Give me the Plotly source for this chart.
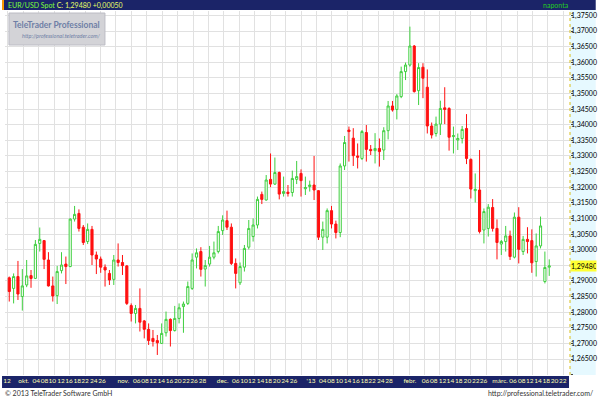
import plotly.graph_objects as go

# ---------------- data (EUR/USD daily candles) ----------------
open_ = [1.2910, 1.2876, 1.2914, 1.2850, 1.2887, 1.2917, 1.2908, 1.3020, 1.3029, 1.2967,
         1.2884, 1.2853, 1.2933, 1.2954, 1.2946, 1.3098, 1.3116, 1.3072, 1.3026, 1.3065,
         1.2983, 1.2970, 1.2944, 1.2924, 1.2905, 1.2967, 1.2959, 1.2948, 1.2821, 1.2796,
         1.2812, 1.2772, 1.2745, 1.2716, 1.2709, 1.2700, 1.2734, 1.2777, 1.2741, 1.2780,
         1.2818, 1.2828, 1.2876, 1.2976, 1.2994, 1.2938, 1.2954, 1.2976, 1.2994, 1.3061,
         1.3093, 1.3072, 1.2956, 1.2894, 1.2944, 1.3008, 1.3042, 1.3079, 1.3177, 1.3159,
         1.3225, 1.3210, 1.3247, 1.3180, 1.3184, 1.3183, 1.3225, 1.3244, 1.3195, 1.3202,
         1.3207, 1.3189, 1.3040, 1.3040, 1.3125, 1.3082, 1.3055, 1.3268, 1.3383, 1.3357,
         1.3300, 1.3292, 1.3375, 1.3321, 1.3317, 1.3324, 1.3319, 1.3381, 1.3460, 1.3449,
         1.3490, 1.3570, 1.3591, 1.3652, 1.3509, 1.3584, 1.3520, 1.3396, 1.3372, 1.3402,
         1.3454, 1.3452, 1.3362, 1.3351, 1.3356, 1.3388, 1.3289, 1.3189, 1.3191, 1.3063,
         1.3068, 1.3135, 1.3068, 1.3018, 1.3026, 1.3044, 1.2976, 1.3104, 1.2994, 1.3033,
         1.3029, 1.2962, 1.3012, 1.2898, 1.2944]
high = [1.2914, 1.2924, 1.2964, 1.2938, 1.2967, 1.2935, 1.3031, 1.3071, 1.3031, 1.2992,
        1.2914, 1.2948, 1.2992, 1.2978, 1.3100, 1.3140, 1.3129, 1.3079, 1.3084, 1.3076,
        1.2994, 1.2978, 1.2953, 1.2935, 1.2983, 1.3020, 1.2983, 1.2951, 1.2828, 1.2823,
        1.2876, 1.2775, 1.2764, 1.2743, 1.2727, 1.2764, 1.2802, 1.2780, 1.2820, 1.2828,
        1.2834, 1.2898, 1.2988, 1.3004, 1.3008, 1.2967, 1.3012, 1.3026, 1.3076, 1.3110,
        1.3125, 1.3084, 1.2972, 1.2959, 1.3015, 1.3095, 1.3100, 1.3170, 1.3186, 1.3239,
        1.3308, 1.3295, 1.3250, 1.3234, 1.3207, 1.3253, 1.3284, 1.3257, 1.3234, 1.3221,
        1.3300, 1.3191, 1.3090, 1.3132, 1.3140, 1.3093, 1.3276, 1.3364, 1.3394, 1.3389,
        1.3340, 1.3383, 1.3399, 1.3335, 1.3373, 1.3356, 1.3392, 1.3476, 1.3476, 1.3498,
        1.3586, 1.3599, 1.3714, 1.3655, 1.3597, 1.3597, 1.3577, 1.3407, 1.3426, 1.3477,
        1.3520, 1.3456, 1.3394, 1.3372, 1.3396, 1.3434, 1.3292, 1.3244, 1.3319, 1.3132,
        1.3146, 1.3162, 1.3097, 1.3031, 1.3076, 1.3061, 1.3119, 1.3136, 1.3044, 1.3072,
        1.3065, 1.3052, 1.3106, 1.2994, 1.2969]
low = [1.2834, 1.2828, 1.2839, 1.2805, 1.2880, 1.2878, 1.2906, 1.2994, 1.2938, 1.2882,
       1.2834, 1.2826, 1.2924, 1.2890, 1.2944, 1.3090, 1.3058, 1.3015, 1.3018, 1.2951,
       1.2922, 1.2926, 1.2882, 1.2887, 1.2887, 1.2946, 1.2919, 1.2823, 1.2770, 1.2764,
       1.2738, 1.2716, 1.2695, 1.2690, 1.2663, 1.2698, 1.2722, 1.2690, 1.2738, 1.2764,
       1.2734, 1.2823, 1.2871, 1.2940, 1.2914, 1.2882, 1.2946, 1.2969, 1.2988, 1.3047,
       1.3063, 1.2951, 1.2876, 1.2887, 1.2930, 1.3001, 1.3026, 1.3068, 1.3146, 1.3157,
       1.3200, 1.3207, 1.3161, 1.3170, 1.3170, 1.3170, 1.3210, 1.3170, 1.3175, 1.3186,
       1.3159, 1.3031, 1.2999, 1.3020, 1.3068, 1.3036, 1.3040, 1.3255, 1.3282, 1.3268,
       1.3260, 1.3287, 1.3282, 1.3303, 1.3276, 1.3266, 1.3287, 1.3353, 1.3442, 1.3417,
       1.3485, 1.3543, 1.3586, 1.3503, 1.3463, 1.3485, 1.3372, 1.3356, 1.3362, 1.3367,
       1.3402, 1.3317, 1.3308, 1.3319, 1.3340, 1.3274, 1.3164, 1.3151, 1.3052, 1.3020,
       1.3042, 1.3058, 1.2969, 1.2983, 1.2994, 1.2967, 1.2972, 1.2956, 1.2983, 1.2988,
       1.2926, 1.2914, 1.3004, 1.2892, 1.2916]
close = [1.2866, 1.2914, 1.2858, 1.2884, 1.2916, 1.2908, 1.3017, 1.3033, 1.2969, 1.2884,
         1.2852, 1.2930, 1.2951, 1.2946, 1.3098, 1.3113, 1.3068, 1.3023, 1.3065, 1.2983,
         1.2970, 1.2944, 1.2935, 1.2903, 1.2967, 1.2959, 1.2949, 1.2828, 1.2796, 1.2812,
         1.2768, 1.2745, 1.2709, 1.2706, 1.2702, 1.2732, 1.2777, 1.2741, 1.2780, 1.2814,
         1.2826, 1.2882, 1.2967, 1.2990, 1.2937, 1.2949, 1.2976, 1.2990, 1.3058, 1.3095,
         1.3072, 1.2956, 1.2924, 1.2946, 1.3004, 1.3068, 1.3079, 1.3161, 1.3161, 1.3223,
         1.3210, 1.3247, 1.3178, 1.3186, 1.3180, 1.3228, 1.3234, 1.3221, 1.3199, 1.3207,
         1.3191, 1.3040, 1.3065, 1.3125, 1.3082, 1.3055, 1.3268, 1.3343, 1.3378, 1.3301,
         1.3296, 1.3378, 1.3321, 1.3317, 1.3324, 1.3314, 1.3381, 1.3460, 1.3447, 1.3492,
         1.3570, 1.3591, 1.3652, 1.3506, 1.3583, 1.3549, 1.3396, 1.3367, 1.3402, 1.3452,
         1.3449, 1.3360, 1.3365, 1.3356, 1.3385, 1.3292, 1.3194, 1.3193, 1.3058, 1.3122,
         1.3136, 1.3068, 1.3023, 1.3026, 1.3044, 1.2978, 1.3104, 1.3001, 1.3033, 1.3026,
         1.2958, 1.3012, 1.3076, 1.2943, 1.2948]
day_index = list(range(len(close)))

# x tick labels (position in trading-day index, label)
x_tick_pos = [-0.5, 3.3, 6.2, 8.1, 9.9, 11.9, 13.7, 15.6, 17.4, 19.4, 21.3,
              26.2, 29.3, 31.2, 33.0, 34.9, 36.8, 38.7, 40.6, 42.4, 44.4,
              49.0, 52.0, 53.9, 55.7, 57.7, 59.5, 61.4, 63.3, 65.3,
              69.3, 72.0, 73.9, 75.8, 77.7, 79.6, 81.5, 83.3, 85.3, 87.2,
              92.0, 95.6, 97.5, 99.5, 101.3, 103.2, 105.2, 107.1, 108.9,
              112.7, 115.7, 117.7, 119.5, 121.4, 123.3, 125.2, 127.1]
x_tick_text = ["12", "okt.", "04", "08", "10", "12", "16", "18", "22", "24", "26",
               "nov.", "06", "08", "12", "14", "16", "20", "22", "26", "28",
               "dec.", "06", "10", "12", "14", "18", "20", "24", "26",
               "'13", "04", "08", "10", "14", "16", "18", "22", "24", "28",
               "febr.", "06", "08", "12", "14", "18", "20", "22", "26",
               "márc.", "06", "08", "12", "14", "18", "20", "22"]

# y tick labels (1,29500 is hidden under the last-price marker)
y_tick_vals = [1.265, 1.270, 1.275, 1.280, 1.285, 1.290, 1.300, 1.305, 1.310,
               1.315, 1.320, 1.325, 1.330, 1.335, 1.340, 1.345, 1.350, 1.355,
               1.360, 1.365, 1.370, 1.375]

last_price = 1.29480
title_text = "EUR/USD Spot"
change_text = "C: 1,29480 +0,00050"

# ---------------- geometry helpers (pixels -> paper) ----------------
W_TOT, H_TOT = 600, 400
ML, MR, MT, MB = 3, 26, 11, 25
PW, PH = W_TOT - ML - MR, H_TOT - MT - MB


def px(x):
    return (x - ML) / PW


def py(y):
    return (H_TOT - MB - y) / PH


NAVY = "#1b2468"
FONT = "Lato, Liberation Sans, Arial, sans-serif"

fig = go.Figure()
fig.add_trace(go.Candlestick(
    x=day_index, open=open_, high=high, low=low, close=close,
    increasing=dict(fillcolor="#ffffff", line=dict(color="#3fcf3f", width=1)),
    decreasing=dict(fillcolor="#ff1010", line=dict(color="#ff1010", width=1)),
    whiskerwidth=0, showlegend=False, hoverinfo="skip",
))

shapes = [
    dict(type="rect", xref="paper", yref="paper", x0=px(0), x1=px(600), y0=py(10), y1=py(0),
         fillcolor=NAVY, line=dict(width=0), layer="below"),
    dict(type="rect", xref="paper", yref="paper", x0=px(0), x1=px(2), y0=py(10), y1=py(0),
         fillcolor="#ff9900", line=dict(width=0), layer="above"),
    dict(type="rect", xref="paper", yref="paper", x0=px(574), x1=px(600), y0=py(375), y1=py(10),
         fillcolor="#e6f9ff", line=dict(width=0), layer="below"),
    dict(type="rect", xref="paper", yref="paper", x0=px(0), x1=px(573), y0=py(388), y1=py(376),
         fillcolor=NAVY, line=dict(width=0), layer="below"),
    dict(type="line", xref="paper", yref="paper", x0=px(574), x1=px(574), y0=py(375), y1=py(10),
         line=dict(color="#d9bf1a", width=1, dash="dot"), layer="above"),
    dict(type="rect", xref="paper", yref="paper", x0=px(7), x1=px(104), y0=py(45), y1=py(13),
         fillcolor="#d3d3d7", line=dict(color="#bcbcc4", width=1), layer="above"),
]

annotations = [
    dict(xref="paper", yref="paper", x=px(4), y=py(5), xanchor="left", yanchor="middle",
         text=f"<span style='color:#7dff3a'>{title_text}</span> "
              f"<span style='color:#e8ff66'>{change_text}</span>",
         showarrow=False, font=dict(family=FONT, size=7)),
    dict(xref="paper", yref="paper", x=px(575), y=py(5), xanchor="right", yanchor="middle",
         text="naponta", showarrow=False, font=dict(family=FONT, size=7, color="#22cc22")),
    dict(xref="paper", yref="paper", x=px(55.5), y=py(25), xanchor="center", yanchor="middle",
         text="<b>TeleTrader Professional</b>", showarrow=False,
         font=dict(family=FONT, size=8.5, color="#6f7fa6")),
    dict(xref="paper", yref="paper", x=px(60), y=py(36), xanchor="center", yanchor="middle",
         text="<i>http://professional.teletrader.com/</i>", showarrow=False,
         font=dict(family=FONT, size=5.5, color="#6f7fa6")),
    dict(xref="paper", yref="y", x=px(574.5), y=last_price, xanchor="left", yanchor="middle",
         text="1,29480", showarrow=False, bgcolor="#ffff33", borderpad=0,
         width=25, height=10, align="left",
         font=dict(family=FONT, size=7, color="#000000")),
    dict(xref="paper", yref="paper", x=px(1), y=py(393), xanchor="left", yanchor="middle",
         text="© 2013 TeleTrader Software GmbH", showarrow=False,
         font=dict(family=FONT, size=7, color="#333333")),
    dict(xref="paper", yref="paper", x=px(599), y=py(393), xanchor="right", yanchor="middle",
         text="http://professional.teletrader.com/", showarrow=False,
         font=dict(family=FONT, size=7, color="#333333")),
]

x_lo = (ML - 7.3) / 4.401
x_hi = (574 - 7.3) / 4.401
y_top = 1.37 + (31 - MT) / 3124
y_bot = 1.37 - (H_TOT - MB - 31) / 3124

fig.update_layout(
    width=W_TOT, height=H_TOT,
    margin=dict(l=ML, r=MR, t=MT, b=MB, pad=0),
    paper_bgcolor="#ffffff", plot_bgcolor="#ffffff",
    separators=",.",
    font=dict(family=FONT, size=7, color="#000000"),
    shapes=shapes, annotations=annotations,
    xaxis=dict(
        range=[x_lo, x_hi], rangeslider=dict(visible=False),
        tickmode="array", tickvals=x_tick_pos, ticktext=x_tick_text, tickangle=0,
        showgrid=False, zeroline=False, ticks="", ticklabelstandoff=0,
        tickfont=dict(family=FONT, size=6.5, color="#ffffb0"),
        minor=dict(tickmode="linear", tick0=(6 - 7.3) / 4.401, dtick=15.59 / 4.401,
                   showgrid=True, gridcolor="#e1e1e1", gridwidth=1),
        showline=False, fixedrange=True,
    ),
    yaxis=dict(
        range=[y_bot, y_top], side="right",
        tickmode="array", tickvals=y_tick_vals, tickformat=".5f",
        showgrid=False, zeroline=False,
        ticks="", mirror="ticks", ticklabelstandoff=0,
        tickfont=dict(family=FONT, size=7, color="#000000"),
        minor=dict(tickmode="linear", tick0=1.25, dtick=0.005,
                   showgrid=True, gridcolor="#e1e1e1", gridwidth=1,
                   ticks="outside", ticklen=2, tickcolor="#444444"),
        showline=False, fixedrange=True,
    ),
)

fig.write_html("out.html", config={"displayModeBar": False, "staticPlot": True},
               post_script="document.body.style.margin='0';")
